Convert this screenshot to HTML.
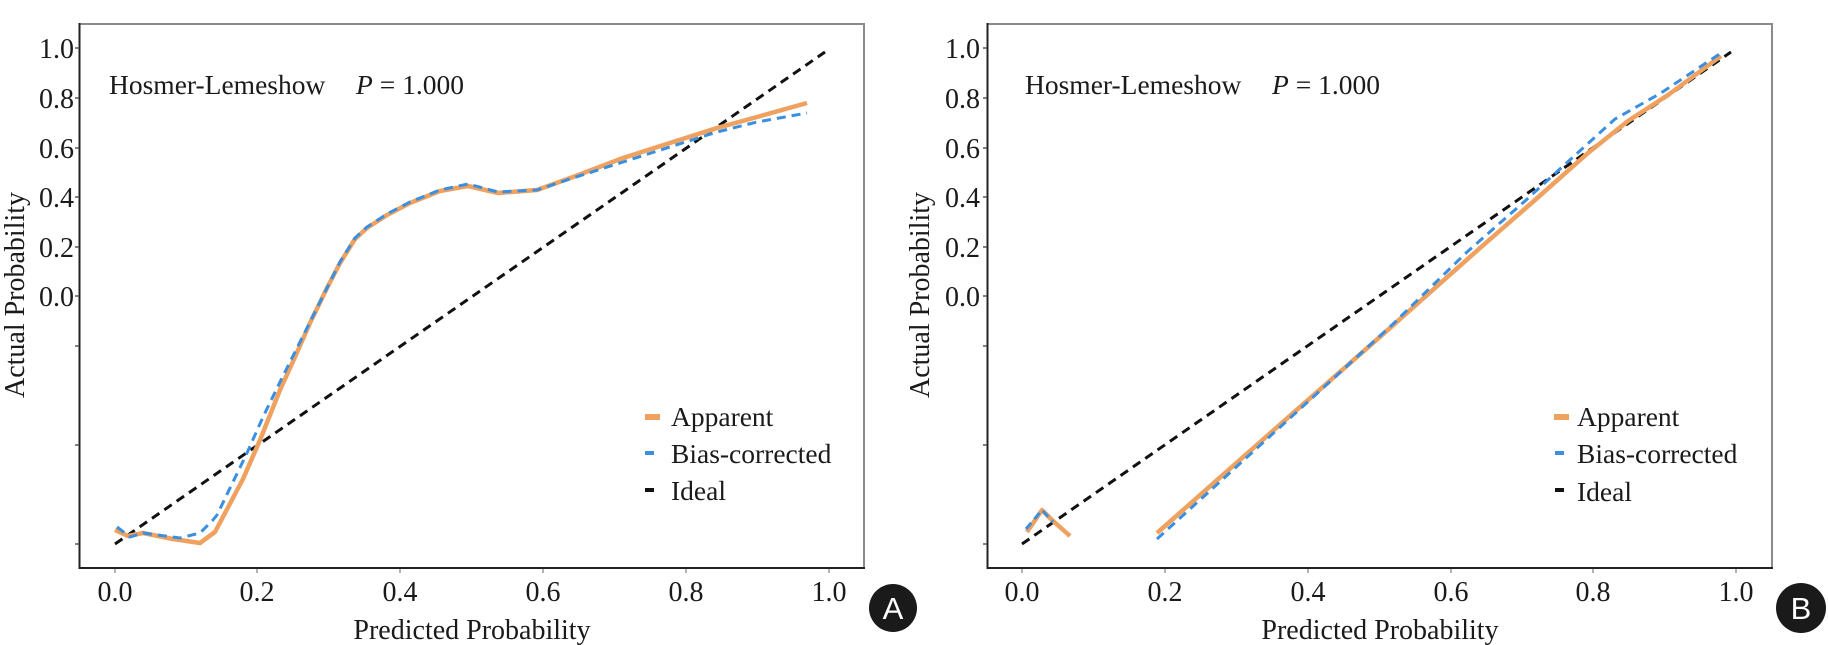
<!DOCTYPE html>
<html>
<head>
<meta charset="utf-8">
<style>
html,body{margin:0;padding:0;background:#fff;}
svg{display:block;}
svg text{font-family:"Liberation Serif","DejaVu Serif",serif;fill:#1a1a1a;}
</style>
</head>
<body>
<svg width="1828" height="645" viewBox="0 0 1828 645" xmlns="http://www.w3.org/2000/svg" font-family="Liberation Serif, DejaVu Serif, serif">
<rect width="1828" height="645" fill="#fff"/>

<!-- ============ PANEL A ============ -->
<g>
  <line x1="79" y1="24" x2="865" y2="24" stroke="#8a8a8a" stroke-width="2"/>
  <line x1="864" y1="24" x2="864" y2="569" stroke="#8a8a8a" stroke-width="2"/>
  <line x1="79.5" y1="23" x2="79.5" y2="569" stroke="#222" stroke-width="2"/>
  <line x1="79" y1="568" x2="865" y2="568" stroke="#222" stroke-width="2"/>
  <g stroke="#555" stroke-width="1.5">
    <line x1="75" y1="48" x2="79" y2="48"/><line x1="75" y1="98" x2="79" y2="98"/>
    <line x1="75" y1="148" x2="79" y2="148"/><line x1="75" y1="197" x2="79" y2="197"/>
    <line x1="75" y1="247" x2="79" y2="247"/><line x1="75" y1="296" x2="79" y2="296"/>
    <line x1="75" y1="346" x2="79" y2="346"/><line x1="75" y1="445" x2="79" y2="445"/>
    <line x1="75" y1="544" x2="79" y2="544"/>
  </g>
  <g font-size="28" text-anchor="end" font-family="Liberation Serif, serif">
    <text x="74" y="58">1.0</text><text x="74" y="108">0.8</text>
    <text x="74" y="158">0.6</text><text x="74" y="207">0.4</text>
    <text x="74" y="257">0.2</text><text x="74" y="306">0.0</text>
  </g>
  <g stroke="#999" stroke-width="1.5">
    <line x1="115" y1="569" x2="115" y2="573"/><line x1="257" y1="569" x2="257" y2="573"/>
    <line x1="400" y1="569" x2="400" y2="573"/><line x1="543" y1="569" x2="543" y2="573"/>
    <line x1="686" y1="569" x2="686" y2="573"/><line x1="829" y1="569" x2="829" y2="573"/>
  </g>
  <g font-size="28" text-anchor="middle" font-family="Liberation Serif, serif">
    <text x="115" y="601">0.0</text><text x="257" y="601">0.2</text>
    <text x="400" y="601">0.4</text><text x="543" y="601">0.6</text>
    <text x="686" y="601">0.8</text><text x="829" y="601">1.0</text>
  </g>
  <text x="472" y="639" font-size="28" text-anchor="middle" font-family="Liberation Serif, serif">Predicted Probability</text>
  <text transform="translate(24,295) rotate(-90)" font-size="28" text-anchor="middle" font-family="Liberation Serif, serif">Actual Probability</text>
  <text x="109" y="94" font-size="27.5" font-family="Liberation Serif, serif">Hosmer-Lemeshow</text>
  <text x="356" y="94" font-size="27.5" font-family="Liberation Serif, serif"><tspan font-style="italic">P</tspan> = 1.000</text>

  <line x1="115" y1="544" x2="825" y2="52" stroke="#111" stroke-width="3" stroke-dasharray="9 6"/>
  <polyline fill="none" stroke="#EFA160" stroke-width="4.5" stroke-linejoin="round"
    points="115,530 128,536 143,533 173,539 200,543 215,532 243,479 260,440 280,390 295,357 310,323 327,288 340,263 355,239 367,228 387,215 410,203 440,191 468,186 498,193 537,190 573,177 623,158 673,142 717,128 757,117 807,103"/>
  <polyline fill="none" stroke="#3A8FE0" stroke-width="3" stroke-dasharray="9 6" stroke-linejoin="round"
    points="117,527 130,537 143,533 180,538 200,533 213,520 217,515 247,453 263,417 280,382 295,352 310,322 327,288 340,262 355,238 367,227 387,214 410,202 440,190 468,184 498,192 537,190 573,178 623,162 673,146 717,132 757,122 807,113"/>

  <rect x="645" y="414" width="15" height="6" fill="#EFA160"/>
  <rect x="645" y="451" width="9" height="4" fill="#3A8FE0"/>
  <rect x="645" y="488" width="9" height="4" fill="#111"/>
  <g font-size="27.5" font-family="Liberation Serif, serif">
    <text x="671" y="426">Apparent</text>
    <text x="671" y="463">Bias-corrected</text>
    <text x="671" y="500">Ideal</text>
  </g>
  <circle cx="893" cy="608" r="24" fill="#1a1a1a"/>
  <text x="893" y="619" font-size="31" text-anchor="middle" font-family="Liberation Sans, sans-serif" style="font-family:'Liberation Sans','DejaVu Sans',sans-serif;fill:#fff">A</text>
</g>

<!-- ============ PANEL B ============ -->
<g>
  <line x1="987" y1="24" x2="1773" y2="24" stroke="#8a8a8a" stroke-width="2"/>
  <line x1="1772" y1="24" x2="1772" y2="569" stroke="#8a8a8a" stroke-width="2"/>
  <line x1="987.5" y1="23" x2="987.5" y2="569" stroke="#222" stroke-width="2"/>
  <line x1="987" y1="568" x2="1773" y2="568" stroke="#222" stroke-width="2"/>
  <g stroke="#555" stroke-width="1.5">
    <line x1="983" y1="48" x2="987" y2="48"/><line x1="983" y1="98" x2="987" y2="98"/>
    <line x1="983" y1="148" x2="987" y2="148"/><line x1="983" y1="197" x2="987" y2="197"/>
    <line x1="983" y1="247" x2="987" y2="247"/><line x1="983" y1="296" x2="987" y2="296"/>
    <line x1="983" y1="346" x2="987" y2="346"/><line x1="983" y1="445" x2="987" y2="445"/>
    <line x1="983" y1="544" x2="987" y2="544"/>
  </g>
  <g font-size="28" text-anchor="end" font-family="Liberation Serif, serif">
    <text x="980" y="58">1.0</text><text x="980" y="108">0.8</text>
    <text x="980" y="158">0.6</text><text x="980" y="207">0.4</text>
    <text x="980" y="257">0.2</text><text x="980" y="306">0.0</text>
  </g>
  <g stroke="#999" stroke-width="1.5">
    <line x1="1022" y1="569" x2="1022" y2="573"/><line x1="1165" y1="569" x2="1165" y2="573"/>
    <line x1="1308" y1="569" x2="1308" y2="573"/><line x1="1451" y1="569" x2="1451" y2="573"/>
    <line x1="1593" y1="569" x2="1593" y2="573"/><line x1="1736" y1="569" x2="1736" y2="573"/>
  </g>
  <g font-size="28" text-anchor="middle" font-family="Liberation Serif, serif">
    <text x="1022" y="601">0.0</text><text x="1165" y="601">0.2</text>
    <text x="1308" y="601">0.4</text><text x="1451" y="601">0.6</text>
    <text x="1593" y="601">0.8</text><text x="1736" y="601">1.0</text>
  </g>
  <text x="1380" y="639" font-size="28" text-anchor="middle" font-family="Liberation Serif, serif">Predicted Probability</text>
  <text transform="translate(929,295) rotate(-90)" font-size="28" text-anchor="middle" font-family="Liberation Serif, serif">Actual Probability</text>
  <text x="1025" y="94" font-size="27.5" font-family="Liberation Serif, serif">Hosmer-Lemeshow</text>
  <text x="1272" y="94" font-size="27.5" font-family="Liberation Serif, serif"><tspan font-style="italic">P</tspan> = 1.000</text>

  <line x1="1022" y1="544" x2="1731" y2="52" stroke="#111" stroke-width="3" stroke-dasharray="9 6"/>
  <polyline fill="none" stroke="#EFA160" stroke-width="4.5" stroke-linejoin="round"
    points="1027,532 1042,510 1052,520 1070,536"/>
  <polyline fill="none" stroke="#3A8FE0" stroke-width="3" stroke-dasharray="8 5" stroke-linejoin="round"
    points="1026,529 1042,510 1053,522"/>
  <polyline fill="none" stroke="#EFA160" stroke-width="4.5" stroke-linejoin="round"
    points="1157,533 1300,407 1390,328 1480,248 1535,200 1588,153 1628,121 1668,95 1721,56"/>
  <polyline fill="none" stroke="#3A8FE0" stroke-width="3" stroke-dasharray="9 6" stroke-linejoin="round"
    points="1157,539 1300,409 1393,324 1467,252 1525,201 1561,168 1615,119 1661,93 1721,53"/>

  <rect x="1554" y="414" width="15" height="6" fill="#EFA160"/>
  <rect x="1555" y="451" width="9" height="4" fill="#3A8FE0"/>
  <rect x="1555" y="488" width="9" height="4" fill="#111"/>
  <g font-size="27.5" font-family="Liberation Serif, serif">
    <text x="1577" y="426">Apparent</text>
    <text x="1577" y="463">Bias-corrected</text>
    <text x="1577" y="501">Ideal</text>
  </g>
  <circle cx="1801" cy="608" r="25" fill="#1a1a1a"/>
  <text x="1801" y="619" font-size="31" text-anchor="middle" font-family="Liberation Sans, sans-serif" style="font-family:'Liberation Sans','DejaVu Sans',sans-serif;fill:#fff">B</text>
</g>
</svg>
</body>
</html>
